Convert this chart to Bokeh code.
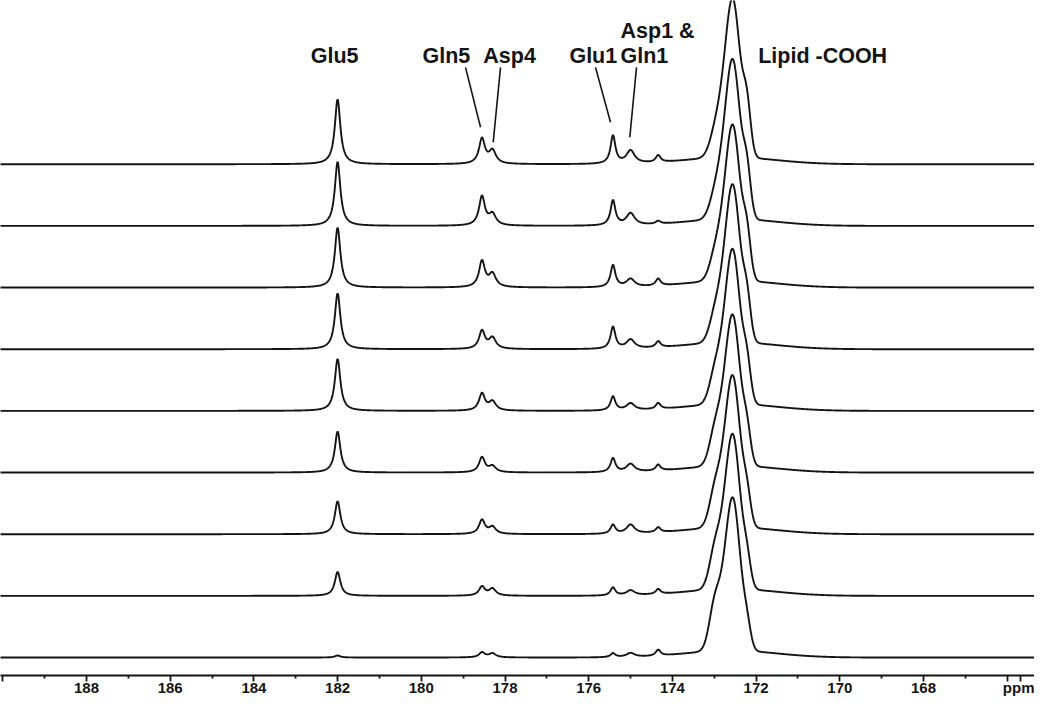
import numpy as np
from bokeh.plotting import figure
from bokeh.models import Range1d, FixedTicker, Label, ColumnDataSource
from bokeh.embed import file_html
from bokeh.resources import INLINE

# ---------------- data ----------------
# chemical-shift axis
major_ticks = [190, 188, 186, 184, 182, 180, 178, 176, 174, 172, 170, 168, 166, 165.68]
tick_labels = ["", "188", "186", "184", "182", "180", "178", "176", "174", "172", "170", "168", "", "ppm"]
minor_ticks = [189, 187, 185, 183, 181, 179, 177, 175, 173, 171, 169, 167]

# resonances: name, position (ppm), line width (ppm, FWHM)
peak_names = ["Glu5", "Gln5", "Asp4", "Glu1", "Asp1 & Gln1", "174.3"]
peak_ppm = [182.00, 178.55, 178.30, 175.42, 175.00, 174.34]
peak_fwhm = [0.16, 0.17, 0.20, 0.14, 0.24, 0.14]

# peak heights (px-like intensity units) for the 9 spectra, top -> bottom
glu5 = [65, 64, 60, 56, 52, 41, 33, 24, 2]
gln5 = [25, 29, 26, 18, 17, 15, 14, 9, 5]
asp4 = [13, 11, 13, 11, 9, 6, 7, 7, 4]
glu1 = [28, 25, 22, 22, 14, 14, 9, 8, 4]
asp1_gln1 = [13, 12, 8, 9, 7, 8, 9, 5, 4]
small_174 = [7, 3, 7, 6, 6, 6, 5, 5, 6]

# lipid carboxyl band components: position, FWHM (ppm)
lipid_ppm = [172.54, 172.80, 172.22, 173.00, 172.60]
lipid_fwhm = [0.40, 0.45, 0.22, 0.30, 2.50]
lipid_main = [141, 142, 139, 141, 138, 134, 135, 138, 137]
lipid_left = [42, 42, 40, 40, 40, 40, 40, 40, 38]
lipid_right = [45, 42, 40, 38, 35, 30, 28, 25, 20]
lipid_farleft = [8, 8, 10, 12, 15, 18, 20, 22, 30]
lipid_foot = [7, 7, 7, 7, 7, 7, 7, 7, 7]

# ---------------- figure ----------------
W, H = 1034, 698
p = figure(width=W, height=H, output_backend="svg", toolbar_location=None,
           x_range=Range1d(190.055, 165.348), y_range=Range1d(7, 683),
           y_axis_location=None, min_border_left=0, min_border_right=0,
           min_border_top=0, min_border_bottom=0)
p.outline_line_color = None
p.xgrid.visible = False
p.ygrid.visible = False
p.background_fill_color = "white"
p.border_fill_color = "white"

ppm = np.arange(190.1, 165.3, -0.01)


def lorentz(x, x0, h, fwhm):
    g = fwhm / 2.0
    return h * g * g / ((x - x0) ** 2 + g * g)


def gauss(x, x0, h, fwhm):
    s = fwhm / 2.3548
    return h * np.exp(-((x - x0) ** 2) / (2 * s * s))


series = [glu5, gln5, asp4, glu1, asp1_gln1, small_174]
lipid_series = [lipid_main, lipid_left, lipid_right, lipid_farleft, lipid_foot]

n = len(glu5)
spacing = 61.75
for i in range(n):
    offset = 25 + (n - 1 - i) * spacing
    y = np.zeros_like(ppm)
    for k, s in enumerate(series):
        y += lorentz(ppm, peak_ppm[k], s[i], peak_fwhm[k])
    for k, s in enumerate(lipid_series):
        y += gauss(ppm, lipid_ppm[k], s[i], lipid_fwhm[k])
    src = ColumnDataSource(dict(x=ppm, y=y + offset))
    p.line("x", "y", source=src, line_color="#141414", line_width=1.9)

# ---------------- axis ----------------
ax = p.xaxis[0]
ax.ticker = FixedTicker(ticks=major_ticks, minor_ticks=minor_ticks)
ax.major_label_overrides = {t: l for t, l in zip(major_ticks, tick_labels)}
ax.major_tick_in = 0
ax.major_tick_out = 6
ax.minor_tick_in = 0
ax.minor_tick_out = 3
ax.axis_line_width = 1.8
ax.major_tick_line_width = 1.8
ax.minor_tick_line_width = 1.8
ax.axis_line_color = "#141414"
ax.major_tick_line_color = "#141414"
ax.minor_tick_line_color = "#141414"
ax.major_label_text_font = "Liberation Sans"
ax.major_label_text_font_style = "bold"
ax.major_label_text_font_size = "15px"
ax.major_label_text_color = "#141414"
ax.major_label_standoff = -3

# ---------------- annotations ----------------
lab_font = "Liberation Sans"
lab_size = "21.5px"
base_y = 627


def add_text(x, y, t, align="center"):
    p.add_layout(Label(x=x, y=y, text=t, text_font=lab_font, text_font_size=lab_size,
                       text_font_style="bold", text_align=align,
                       text_baseline="alphabetic", text_color="#141414"))


add_text(182.07, base_y, "Glu5")
add_text(179.40, base_y, "Gln5")
add_text(177.89, base_y, "Asp4")
add_text(175.89, base_y, "Glu1")
add_text(175.24, base_y + 25, "Asp1 &", align="left")
add_text(175.24, base_y, "Gln1", align="left")
add_text(170.41, base_y, "Lipid -COOH")

# leader lines
lx0 = [178.944, 178.107, 175.837, 174.858]
lx1 = [178.585, 178.282, 175.479, 175.018]
ly0 = [616, 616, 616, 616]
ly1 = [556, 541, 561, 546]
p.segment(x0=lx0, y0=ly0, x1=lx1, y1=ly1, line_color="#141414", line_width=1.6)

open("out.html", "w").write(file_html(p, INLINE))
